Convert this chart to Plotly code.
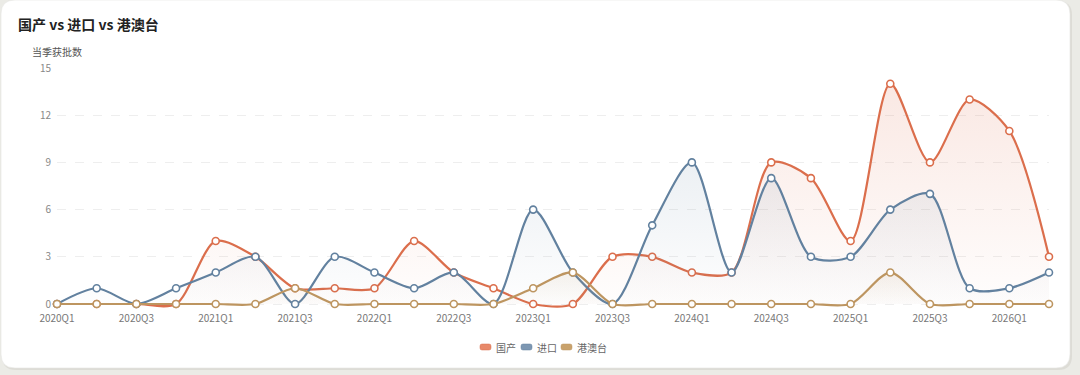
import plotly.graph_objects as go

quarters = ["2020Q1", "2020Q2", "2020Q3", "2020Q4",
            "2021Q1", "2021Q2", "2021Q3", "2021Q4",
            "2022Q1", "2022Q2", "2022Q3", "2022Q4",
            "2023Q1", "2023Q2", "2023Q3", "2023Q4",
            "2024Q1", "2024Q2", "2024Q3", "2024Q4",
            "2025Q1", "2025Q2", "2025Q3", "2025Q4",
            "2026Q1", "2026Q2"]
domestic = [0, 0, 0, 0, 4, 3, 1, 1, 1, 4, 2, 1, 0, 0, 3, 3, 2, 2, 9, 8, 4, 14, 9, 13, 11, 3]
imported = [0, 1, 0, 1, 2, 3, 0, 3, 2, 1, 2, 0, 6, 2, 0, 5, 9, 2, 8, 3, 3, 6, 7, 1, 1, 2]
hkmt = [0, 0, 0, 0, 0, 0, 1, 0, 0, 0, 0, 0, 1, 2, 0, 0, 0, 0, 0, 0, 0, 2, 0, 0, 0, 0]
series_names = ["国产", "进口", "港澳台"]
yticks = [0, 3, 6, 9, 12, 15]

W, H = 1080, 375
Y0PX, Y15PX = 304, 68
BOTTOM = 309
UNIT = (Y0PX - Y15PX) / 15.0
YMIN = -(BOTTOM - Y0PX) / UNIT
ML, MR, MT, MB = 57, 31, Y15PX, H - BOTTOM
PW, PH = W - ML - MR, H - MT - MB
FONT = "Noto Sans CJK SC, Noto Sans, sans-serif"


def px(x):
    return (x - ML) / PW


def py(y):
    return (H - MB - y) / PH


def rrect(x0, y0, x1, y1, r):
    rx, ry = r / PW, r / PH
    X0, X1 = px(x0), px(x1)
    Yt, Yb = py(y0), py(y1)
    return (f"M {X0+rx},{Yt} L {X1-rx},{Yt} Q {X1},{Yt} {X1},{Yt-ry} "
            f"L {X1},{Yb+ry} Q {X1},{Yb} {X1-rx},{Yb} L {X0+rx},{Yb} "
            f"Q {X0},{Yb} {X0},{Yb+ry} L {X0},{Yt-ry} Q {X0},{Yt} {X0+rx},{Yt} Z")


styles = [
    ("#db6e4c", (222, 112, 80), 0.16, "#e8896a"),
    ("#62819f", (98, 129, 159), 0.12, "#7d97b2"),
    ("#bd9560", (189, 149, 96), 0.10, "#c9a26c"),
]

fig = go.Figure()
for name, vals, (col, rgb, a, _) in zip(series_names, [domestic, imported, hkmt], styles):
    r, g, b = rgb
    fig.add_trace(go.Scatter(
        x=quarters, y=vals, name=name, mode="lines+markers",
        line=dict(color=col, width=2.2, shape="spline", smoothing=0.8),
        marker=dict(size=7, color="white", line=dict(color=col, width=1.6)),
        fill="tozeroy",
        fillgradient=dict(type="vertical", colorscale=[
            [0, f"rgba({r},{g},{b},0.01)"], [1, f"rgba({r},{g},{b},{a})"]]),
        cliponaxis=False, showlegend=False, hoverinfo="x+y+name",
    ))

shapes = [
    dict(type="path", xref="paper", yref="paper", path=rrect(2, 1, 1072, 370, 14),
         fillcolor="#dddcd6", line=dict(width=0), layer="below"),
    dict(type="path", xref="paper", yref="paper", path=rrect(1, 0, 1070, 368, 14),
         fillcolor="#ffffff", line=dict(color="#e4e4e0", width=0.6), layer="below"),
]

annotations = [dict(text="当季获批数", xref="paper", yref="paper", x=0, y=py(51),
                    xanchor="center", yanchor="middle", showarrow=False,
                    font=dict(family=FONT, size=10, color="#555"))]

# manual legend (icon left x, text left x)
legend_pos = [(480, 494), (521, 535), (561, 575)]
LEG_Y = 347
for name, (col, rgb, a, lite), (ix, tx) in zip(series_names, styles, legend_pos):
    shapes.append(dict(type="path", xref="paper", yref="paper",
                       path=rrect(ix, LEG_Y - 3, ix + 11, LEG_Y + 3, 2),
                       fillcolor=lite, line=dict(color=col, width=0.5), layer="above"))
    annotations.append(dict(text=name, xref="paper", yref="paper", x=px(tx), y=py(LEG_Y),
                            xanchor="left", yanchor="middle", showarrow=False,
                            font=dict(family=FONT, size=10, color="#666")))

fig.update_layout(
    width=W, height=H,
    margin=dict(l=ML, r=MR, t=MT, b=MB),
    paper_bgcolor="#ebebe6", plot_bgcolor="rgba(0,0,0,0)",
    font=dict(family=FONT, size=10, color="#666"),
    shapes=shapes, annotations=annotations, showlegend=False,
    title=dict(text="<b>国产 vs 进口 vs 港澳台</b>", x=18 / W, xref="container", xanchor="left",
               y=1 - 25 / H, yref="container", yanchor="middle",
               font=dict(family=FONT, size=14, color="#222")),
    xaxis=dict(type="category", range=[0, len(quarters) - 1], tickmode="array",
               tickvals=quarters[::2], ticktext=quarters[::2], showgrid=False,
               showline=False, ticks="", ticklabelstandoff=2,
               tickfont=dict(size=10, color="#777"), zeroline=False, fixedrange=True),
    yaxis=dict(range=[YMIN, 15], tickmode="array", tickvals=yticks, showgrid=True,
               gridcolor="#eeeeee", griddash="dash", gridwidth=1, zeroline=False,
               showline=False, ticks="", ticklabelstandoff=5,
               tickfont=dict(size=10, color="#888"), fixedrange=True),
)

fig.write_html("out.html")
